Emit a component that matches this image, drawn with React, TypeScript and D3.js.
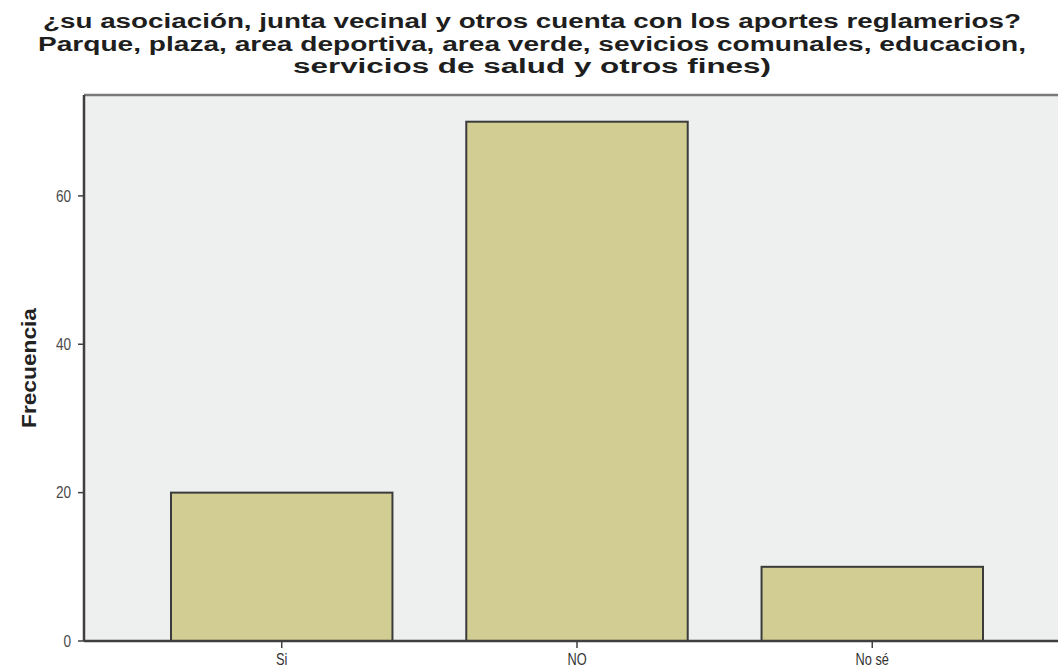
import React from "react";
import * as d3 from "d3";

const titleLines = [
  "¿su asociación, junta vecinal y otros cuenta con los aportes reglamerios?",
  "Parque, plaza, area deportiva, area verde, sevicios comunales, educacion,",
  "servicios de salud y otros fines)",
];
const titleWidths = [978, 988, 478];
const categories = ["Si", "NO", "No sé"];
const frequencies = [20, 70, 10];
const yTicks = [0, 20, 40, 60];

const W = 1058;
const H = 669;
const plot = { left: 84, top: 95, right: 1062, bottom: 641 };

export default function App() {
  const x = d3
    .scaleBand<string>()
    .domain(categories)
    .range([171, 983])
    .paddingInner(0.25)
    .paddingOuter(0);
  const y = d3.scaleLinear().domain([0, 73.6]).range([plot.bottom, plot.top]);

  return (
    <svg
      width={W}
      height={H}
      style={{ position: "absolute", left: 0, top: 0, background: "#fff" }}
      fontFamily="'Liberation Sans', Arial, sans-serif"
    >
      {/* title, three centred lines */}
      {titleLines.map((t, i) => (
        <text
          key={i}
          x={532}
          y={28 + i * 22.5}
          textAnchor="middle"
          fontSize={20}
          fontWeight="bold"
          fill="#1e1e1e"
          textLength={titleWidths[i]}
          lengthAdjust="spacingAndGlyphs"
        >
          {t}
        </text>
      ))}

      {/* plot background */}
      <rect
        x={plot.left}
        y={plot.top}
        width={plot.right - plot.left}
        height={plot.bottom - plot.top}
        fill="#eef0ef"
      />
      <line x1={plot.left} x2={plot.right} y1={plot.top} y2={plot.top} stroke="#7a7a7a" strokeWidth={2.5} />

      {/* bars */}
      {categories.map((c, i) => (
        <rect
          key={c}
          x={x(c)}
          y={y(frequencies[i])}
          width={x.bandwidth()}
          height={y(0) - y(frequencies[i])}
          fill="#d2cd93"
          stroke="#3b3b3b"
          strokeWidth={2}
        />
      ))}

      {/* axes */}
      <line x1={plot.left} x2={plot.left} y1={plot.top} y2={plot.bottom} stroke="#3f3f3f" strokeWidth={2.5} />
      <line x1={plot.left} x2={plot.right} y1={plot.bottom} y2={plot.bottom} stroke="#3f3f3f" strokeWidth={2.5} />

      {yTicks.map((v) => (
        <g key={v} transform={`translate(0,${y(v)})`}>
          <line x1={plot.left - 6} x2={plot.left} stroke="#3f3f3f" strokeWidth={1.5} />
          <text
            transform={`translate(${plot.left - 13},0) scale(0.85,1)`}
            dy="0.36em"
            textAnchor="end"
            fontSize={16}
            fill="#4a4a4a"
          >
            {v}
          </text>
        </g>
      ))}

      {categories.map((c) => {
        const cx = (x(c) as number) + x.bandwidth() / 2;
        return (
          <g key={c} transform={`translate(${cx},${plot.bottom})`}>
            <line y1={0} y2={7} stroke="#3f3f3f" strokeWidth={1.5} />
            <text transform="translate(0,24) scale(0.8,1)" textAnchor="middle" fontSize={16} fill="#333">
              {c}
            </text>
          </g>
        );
      })}

      <text
        transform={`translate(36,${368}) rotate(-90)`}
        textAnchor="middle"
        fontSize={21}
        fontWeight="bold"
        fill="#222"
        textLength={120}
        lengthAdjust="spacingAndGlyphs"
      >
        Frecuencia
      </text>
    </svg>
  );
}
